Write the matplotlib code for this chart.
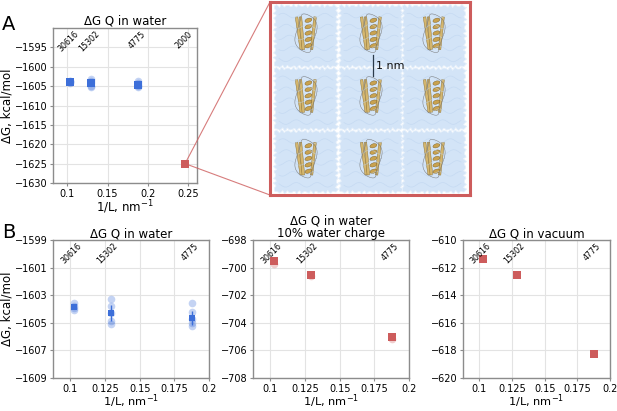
import numpy as np
import matplotlib
matplotlib.use("Agg")
import matplotlib.pyplot as plt
from matplotlib.patches import Polygon, Ellipse, ConnectionPatch, Rectangle
import matplotlib.transforms as mtransforms

# ---------------- data ----------------
inv_L = [0.103, 0.129, 0.188]          # 1/L, nm^-1
atom_labels = ["30616", "15302", "4775"]
big_inv_L = 0.246
big_label = "2000"

water_mean = [-1603.85, -1604.28, -1604.68]
water_err = [0.12, 0.56, 0.50]
water_reps = [
    [-1603.6, -1603.75, -1603.95, -1604.1],
    [-1603.25, -1603.75, -1604.3, -1604.85, -1605.1],
    [-1603.55, -1604.2, -1604.7, -1605.0, -1605.25],
]
big_water_dG = -1625.0

charge10_mean = [-699.55, -700.55, -705.05]
charge10_reps = [[-699.75], [-700.6], [-705.15]]

vacuum_mean = [-611.35, -612.55, -618.25]

BLUE = "#3d6fd9"
RED = "#cd5c5c"
GRID = "#e3e3e3"
SPINE = "#8c8c8c"

plt.rcParams["font.family"] = ["DejaVu Sans"]

fig = plt.figure(figsize=(6.17, 4.11), dpi=100)
W, H = 617.0, 411.0


def ax_px(x0, y0, x1, y1):
    return fig.add_axes([x0 / W, 1 - y1 / H, (x1 - x0) / W, (y1 - y0) / H])


def style(ax):
    ax.grid(True, color=GRID, lw=0.8)
    ax.set_axisbelow(True)
    for s in ax.spines.values():
        s.set_color(SPINE)
        s.set_linewidth(1.0)
    ax.tick_params(labelsize=7, color=SPINE, length=2.5, width=0.8, pad=1.5)


def top_labels(ax, xs, labels):
    trans = mtransforms.blended_transform_factory(ax.transData, ax.transAxes)
    for x, lab in zip(xs, labels):
        ax.text(x - 0.002, 0.99, lab, rotation=45, ha="center", va="top",
                fontsize=5.8, transform=trans, clip_on=False)


# ---------------- panel A ----------------
axA = ax_px(53, 28, 197, 183)
style(axA)
for x, reps in zip(inv_L, water_reps):
    axA.plot([x] * len(reps), reps, "o", color=BLUE, alpha=0.3, ms=5.5, mew=0)
axA.plot(inv_L, water_mean, "s", color=BLUE, ms=5.2, mew=0)
axA.plot([big_inv_L], [big_water_dG], "s", color=RED, ms=5.5, mew=0)
axA.set_xlim(0.0823, 0.2608)
axA.set_ylim(-1630, -1590)
axA.set_xticks([0.1, 0.15, 0.2, 0.25])
axA.set_xticklabels(["0.1", "0.15", "0.2", "0.25"])
axA.set_yticks(np.arange(-1630, -1594, 5))
axA.set_title("ΔG Q in water", fontsize=8.5, pad=2)
axA.set_xlabel("1/L, nm$^{-1}$", fontsize=8.5, labelpad=0)
axA.set_ylabel("ΔG, kcal/mol", fontsize=8.5, labelpad=1)
top_labels(axA, inv_L + [big_inv_L], atom_labels + [big_label])

# ---------------- panel B ----------------
xt = [0.1, 0.125, 0.15, 0.175, 0.2]
xtl = ["0.1", "0.125", "0.15", "0.175", "0.2"]

axB1 = ax_px(53, 240, 209, 378)
style(axB1)
for x, reps in zip(inv_L, water_reps):
    axB1.plot([x] * len(reps), reps, "o", color=BLUE, alpha=0.3, ms=5.5, mew=0)
axB1.errorbar(inv_L, water_mean, yerr=water_err, fmt="s", color=BLUE, ms=5,
              mew=0, elinewidth=1, capsize=1.5)
axB1.set_ylim(-1609, -1599)
axB1.set_yticks(np.arange(-1609, -1598, 2))
axB1.set_title("ΔG Q in water", fontsize=8.5, pad=2)
axB1.set_ylabel("ΔG, kcal/mol", fontsize=8.5, labelpad=1)

axB2 = ax_px(253, 240, 409, 378)
style(axB2)
for x, reps in zip(inv_L, charge10_reps):
    axB2.plot([x] * len(reps), reps, "o", color=RED, alpha=0.3, ms=5.5, mew=0)
axB2.plot(inv_L, charge10_mean, "s", color=RED, ms=5.5, mew=0)
axB2.set_ylim(-708, -698)
axB2.set_yticks(np.arange(-708, -697, 2))
axB2.set_title("ΔG Q in water\n10% water charge", fontsize=8.5, pad=2,
               linespacing=0.95)

axB3 = ax_px(463, 240, 610, 378)
style(axB3)
axB3.plot(inv_L, vacuum_mean, "s", color=RED, ms=5.5, mew=0)
axB3.set_ylim(-620, -610)
axB3.set_yticks(np.arange(-620, -609, 2))
axB3.set_title("ΔG Q in vacuum", fontsize=8.5, pad=2)

for ax in (axB1, axB2, axB3):
    ax.set_xlim(0.0875, 0.2)
    ax.set_xticks(xt)
    ax.set_xticklabels(xtl)
    ax.set_xlabel("1/L, nm$^{-1}$", fontsize=8.2, labelpad=-1)
    top_labels(ax, inv_L, atom_labels)

# ---------------- inset illustration ----------------
axI = ax_px(270, 2, 470, 195)
axI.set_xlim(0, 1)
axI.set_ylim(0, 1)
axI.set_xticks([])
axI.set_yticks([])
for s in axI.spines.values():
    s.set_color(RED)
    s.set_linewidth(2.2)


def wobbly_rect(x0, y0, w, h, n=40, amp=0.006):
    pts = []
    for side in range(4):
        for i in range(n):
            t = i / n
            if side == 0:
                px, py = x0 + t * w, y0
            elif side == 1:
                px, py = x0 + w, y0 + t * h
            elif side == 2:
                px, py = x0 + w - t * w, y0 + h
            else:
                px, py = x0, y0 + h - t * h
            k = side * n + i
            d = amp * (np.sin(k * 1.7) + 0.6 * np.sin(k * 3.9 + 1.0))
            if side in (0, 2):
                py += d
            else:
                px += d
            pts.append((px, py))
    return pts


tile_x = [0.025, 0.35, 0.665]
tile_y = [0.015, 0.34, 0.665]
tw, th = 0.31, 0.315
for ty in tile_y:
    for tx in tile_x:
        axI.add_patch(Polygon(wobbly_rect(tx, ty, tw, th), closed=True,
                              fc="#d3e4f7", ec="#e6f0fb", lw=0.6))
        for j in range(5):
            yy = ty + th * (0.12 + 0.18 * j)
            xs = np.linspace(tx + 0.02, tx + tw - 0.02, 30)
            ys = yy + 0.012 * np.sin(xs * 60 + j)
            axI.plot(xs, ys, color="#bcd3ef", lw=0.5, alpha=0.6)
        cx, cy = tx + tw * 0.5, ty + th * 0.55
        loop_t = np.linspace(0, 2 * np.pi, 60)
        axI.plot(cx + 0.05 * np.cos(loop_t) + 0.01 * np.sin(3 * loop_t),
                 cy + 0.1 * np.sin(loop_t), color="#777777", lw=0.35)
        for dx, ang in [(-0.035, 8), (-0.02, 5), (0.037, -6)]:
            axI.add_patch(Rectangle((cx + dx - 0.007, cy - 0.085), 0.013, 0.17,
                                    angle=ang, rotation_point="center",
                                    fc="#d4b66e", ec="#8a6d2c", lw=0.3))
        for k in range(5):
            axI.add_patch(Ellipse((cx + 0.012, cy - 0.065 + k * 0.033), 0.036, 0.02,
                                  angle=20, fc="#c9a24f", ec="#7a5e22", lw=0.3))

axI.plot([0.515, 0.515], [0.615, 0.725], color="#2b3a4a", lw=0.9)
axI.text(0.53, 0.67, "1 nm", fontsize=8, va="center", ha="left", color="#111111")

# connection lines from red point to inset
for corner in [(0, 1), (0, 0)]:
    con = ConnectionPatch(xyA=(big_inv_L, big_water_dG), coordsA=axA.transData,
                          xyB=corner, coordsB=axI.transAxes,
                          color=RED, lw=0.8, alpha=0.8)
    fig.add_artist(con)

# panel letters
fig.text(2 / W, 1 - 30 / H, "A", fontsize=14)
fig.text(2 / W, 1 - 238 / H, "B", fontsize=14)

fig.savefig("out.png", dpi=100)
